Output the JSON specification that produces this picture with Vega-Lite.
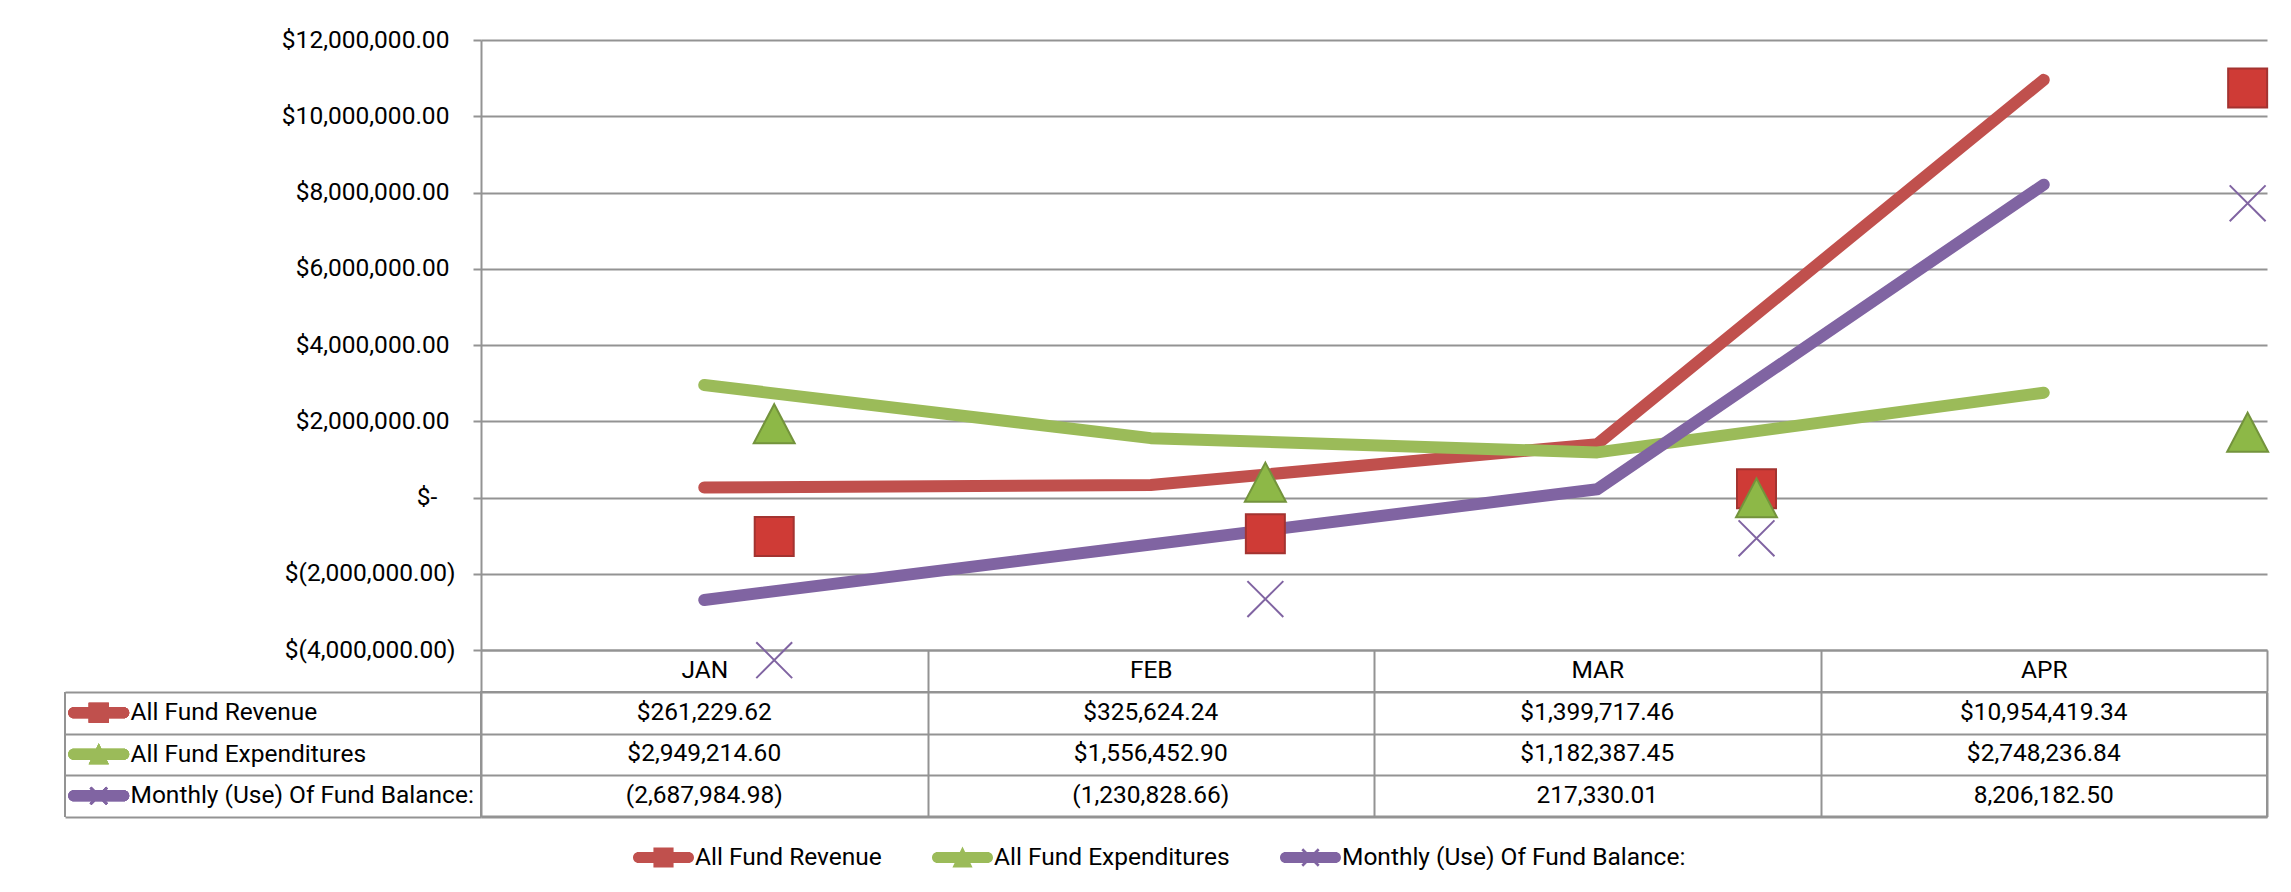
{
  "$schema": "https://vega.github.io/schema/vega-lite/v6.json",
  "padding": {"left": 62, "top": 27, "right": 5, "bottom": 0},
  "autosize": {"type": "pad"},
  "background": "white",
  "spacing": -15,
  "datasets": {
    "d": [
      {"month": "JAN", "series": "All Fund Revenue", "value": 261229.62},
      {"month": "FEB", "series": "All Fund Revenue", "value": 325624.24},
      {"month": "MAR", "series": "All Fund Revenue", "value": 1399717.46},
      {"month": "APR", "series": "All Fund Revenue", "value": 10954419.34},
      {"month": "JAN", "series": "All Fund Expenditures", "value": 2949214.60},
      {"month": "FEB", "series": "All Fund Expenditures", "value": 1556452.90},
      {"month": "MAR", "series": "All Fund Expenditures", "value": 1182387.45},
      {"month": "APR", "series": "All Fund Expenditures", "value": 2748236.84},
      {"month": "JAN", "series": "Monthly (Use) Of Fund Balance:", "value": -2687984.98},
      {"month": "FEB", "series": "Monthly (Use) Of Fund Balance:", "value": -1230828.66},
      {"month": "MAR", "series": "Monthly (Use) Of Fund Balance:", "value": 217330.01},
      {"month": "APR", "series": "Monthly (Use) Of Fund Balance:", "value": 8206182.50}
    ]
  },
  "data": {"name": "d"},
  "vconcat": [
    {
      "width": 1786,
      "height": 610,
      "view": {"stroke": null},
      "layer": [
        {
          "mark": {"type": "line", "strokeWidth": 12, "strokeCap": "round", "strokeJoin": "round"},
          "encoding": {
            "x": {
              "field": "month", "type": "ordinal", "sort": ["JAN", "FEB", "MAR", "APR"],
              "scale": {"type": "band", "paddingInner": 0, "paddingOuter": 0},
              "axis": {
                "title": null, "tickBand": "extent", "tickSize": 41, "tickWidth": 2, "tickColor": "#939393",
                "domainColor": "#939393", "domainWidth": 2, "labelAngle": 0, "labelBaseline": "middle",
                "labelPadding": -20.5, "labelFontSize": 24.5, "labelColor": "#000000", "grid": false, "labelLimit": 0
              }
            },
            "y": {
              "field": "value", "type": "quantitative",
              "scale": {"domain": [-4000000, 12000000], "nice": false, "zero": false},
              "axis": {
                "title": null,
                "values": [-4000000, -2000000, 0, 2000000, 4000000, 6000000, 8000000, 10000000, 12000000],
                "grid": true, "gridColor": "#939393", "gridWidth": 2,
                "tickSize": 8, "tickColor": "#939393", "tickWidth": 2,
                "domainColor": "#939393", "domainWidth": 2,
                "labelPadding": 18,
                "labelFontSize": 24.5, "labelColor": "#000000", "labelLimit": 0,
                "labelExpr": "datum.value == 0 ? '$-\u00a0\u00a0\u00a0\u200b' : (datum.value < 0 ? '$(' + format(-datum.value, ',.2f') + ')' : '$' + format(datum.value, ',.2f') + '\u00a0\u200b')"
              }
            },
            "color": {
              "field": "series", "type": "nominal",
              "scale": {"domain": ["All Fund Revenue", "All Fund Expenditures", "Monthly (Use) Of Fund Balance:"], "range": ["#C0504D", "#9BBB59", "#8064A2"]},
              "legend": null
            }
          }
        },
        {
          "transform": [{"calculate": "indexof(['JAN','FEB','MAR','APR'], datum.month)", "as": "mi"}],
          "mark": {"type": "point", "size": 1521, "strokeWidth": 2, "opacity": 1},
          "encoding": {
            "x": {"field": "mi", "type": "quantitative", "scale": {"domain": [-0.597, 3.0394], "nice": false, "zero": false}, "axis": null},
            "y": {"field": "value", "type": "quantitative", "scale": {"domain": [-2445700, 12099400], "nice": false, "zero": false}, "axis": null},
            "shape": {
              "field": "series", "type": "nominal",
              "scale": {"domain": ["All Fund Revenue", "All Fund Expenditures", "Monthly (Use) Of Fund Balance:"], "range": ["square", "M0,-1L1.05,1L-1.05,1Z", "M-0.92,-0.92L0.92,0.92M-0.92,0.92L0.92,-0.92"]},
              "legend": null
            },
            "fill": {
              "field": "series", "type": "nominal",
              "scale": {"domain": ["All Fund Revenue", "All Fund Expenditures", "Monthly (Use) Of Fund Balance:"], "range": ["#CF3B36", "#8DB847", "transparent"]},
              "legend": null
            },
            "stroke": {
              "field": "series", "type": "nominal",
              "scale": {"domain": ["All Fund Revenue", "All Fund Expenditures", "Monthly (Use) Of Fund Balance:"], "range": ["#A33330", "#73933C", "#8064A2"]},
              "legend": null
            }
          }
        }
      ],
      "resolve": {"scale": {"x": "independent", "y": "independent", "color": "independent"}}
    },
    {
      "width": 1786,
      "height": 124.6,
      "view": {"stroke": "#939393", "strokeWidth": 2},
      "layer": [
        {
          "transform": [{"calculate": "datum.series == 'Monthly (Use) Of Fund Balance:' ? (datum.value < 0 ? '(' + format(-datum.value, ',.2f') + ')' : format(datum.value, ',.2f')) : '$' + format(datum.value, ',.2f')", "as": "label"}],
          "mark": {"type": "text", "fontSize": 24.5, "color": "#000000", "baseline": "middle", "align": "center"},
          "encoding": {
            "x": {
              "field": "month", "type": "ordinal", "sort": ["JAN", "FEB", "MAR", "APR"],
              "scale": {"type": "band", "paddingInner": 0, "paddingOuter": 0},
              "axis": {"title": null, "labels": false, "ticks": false, "domain": false, "grid": true, "tickBand": "extent", "gridColor": "#939393", "gridWidth": 2}
            },
            "y": {
              "field": "series", "type": "nominal", "sort": ["All Fund Revenue", "All Fund Expenditures", "Monthly (Use) Of Fund Balance:"],
              "scale": {"type": "band", "paddingInner": 0, "paddingOuter": 0},
              "axis": {
                "title": null, "grid": true, "tickBand": "extent", "gridColor": "#939393", "gridWidth": 2,
                "tickSize": 416, "tickColor": "#939393", "tickWidth": 2, "domain": false,
                "labelAlign": "left", "labelBaseline": "middle", "labelPadding": -65, "labelFontSize": 24.5, "labelColor": "#000000", "labelLimit": 0
              }
            },
            "text": {"field": "label"}
          }
        },
        {
          "mark": {"type": "rule", "color": "#939393", "strokeWidth": 2},
          "encoding": {
            "x": {"datum": -0.9317, "type": "quantitative", "scale": {"domain": [0, 4], "nice": false, "zero": false}, "axis": null}
          }
        },
        {
          "mark": {"type": "point", "size": 3721, "filled": true, "opacity": 1},
          "encoding": {
            "x": {"datum": -0.8561, "type": "quantitative", "scale": {"domain": [0, 4], "nice": false, "zero": false}, "axis": null},
            "y": {"field": "series", "type": "nominal", "sort": ["All Fund Revenue", "All Fund Expenditures", "Monthly (Use) Of Fund Balance:"]},
            "color": {
              "field": "series", "type": "nominal",
              "scale": {"domain": ["All Fund Revenue", "All Fund Expenditures", "Monthly (Use) Of Fund Balance:"], "range": ["#C0504D", "#9BBB59", "#8064A2"]},
              "legend": {
                "orient": "none", "legendX": 152, "legendY": 135, "direction": "horizontal", "title": null,
                "symbolSize": 3721, "labelFontSize": 24.5, "labelColor": "#000000", "labelOffset": 1,
                "columnPadding": 50, "symbolStrokeWidth": 0, "labelLimit": 0, "symbolOpacity": 1
              }
            },
            "shape": {
              "field": "series", "type": "nominal",
              "scale": {
                "domain": ["All Fund Revenue", "All Fund Expenditures", "Monthly (Use) Of Fund Balance:"],
                "range": [
                  "M-0.82,-0.18H0.82A0.18,0.18,0,0,1,0.82,0.18H-0.82A0.18,0.18,0,0,1,-0.82,-0.18ZM-0.33,-0.33H0.33V0.33H-0.33Z",
                  "M-0.82,-0.18H0.82A0.18,0.18,0,0,1,0.82,0.18H-0.82A0.18,0.18,0,0,1,-0.82,-0.18ZM0,-0.36L0.33,0.33H-0.33Z",
                  "M-0.82,-0.18H0.82A0.18,0.18,0,0,1,0.82,0.18H-0.82A0.18,0.18,0,0,1,-0.82,-0.18ZM-0.3,-0.24L-0.24,-0.3L0.3,0.24L0.24,0.3ZM0.3,-0.24L-0.24,0.3L-0.3,0.24L0.24,-0.3Z"
                ]
              }
            }
          }
        }
      ],
      "resolve": {"scale": {"x": "independent"}, "axis": {"x": "independent"}}
    }
  ],
  "resolve": {
    "scale": {"color": "independent", "shape": "independent", "fill": "independent", "stroke": "independent"},
    "legend": {"color": "independent", "shape": "independent", "fill": "independent", "stroke": "independent"}
  },
  "config": {
    "font": "Roboto",
    "axis": {"labelFont": "Roboto"},
    "legend": {"labelFont": "Roboto"},
    "text": {"font": "Roboto"}
  }
}
